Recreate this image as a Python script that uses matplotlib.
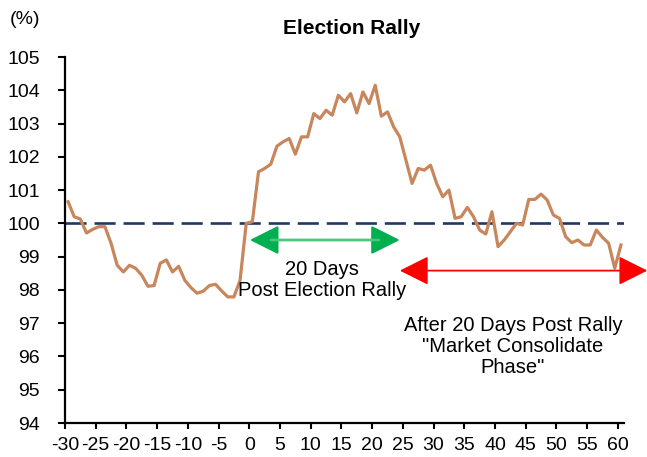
import numpy as np
import matplotlib
matplotlib.use('Agg')
import matplotlib.pyplot as plt

plt.rcParams['font.family'] = ['Liberation Sans', 'DejaVu Sans']

# days relative to election day
days = np.arange(-30, 61)
# index level (%)
level = [
    100.65, 100.2, 100.13, 99.71, 99.82, 99.9, 99.9, 99.4, 98.74, 98.54,
    98.74, 98.65, 98.44, 98.11, 98.13, 98.8, 98.9, 98.54, 98.71, 98.29,
    98.07, 97.9, 97.96, 98.13, 98.17, 97.97, 97.79, 97.79, 98.29, 100.0,
    100.05, 101.55, 101.65, 101.78, 102.32, 102.45, 102.55, 102.08, 102.6, 102.6,
    103.3, 103.15, 103.4, 103.25, 103.85, 103.65, 103.9, 103.32, 103.95, 103.6,
    104.15, 103.22, 103.35, 102.9, 102.6, 101.9, 101.2, 101.65, 101.6, 101.75,
    101.2, 100.8, 101.0, 100.15, 100.2, 100.48, 100.2, 99.8, 99.68, 100.35,
    99.3, 99.5, 99.75, 100.0, 99.95, 100.72, 100.72, 100.88, 100.7, 100.25,
    100.15, 99.6, 99.42, 99.5, 99.35, 99.35, 99.8, 99.58, 99.4, 98.65,
    99.35,
]
baseline = 100
xtick_labels = np.arange(-30, 61, 5)
yticks = np.arange(94, 106, 1)

fig = plt.figure(figsize=(6.47, 4.57), dpi=100)
ax = fig.add_axes([65 / 647, 34 / 457, 559 / 647, 366 / 457])

ax.plot(days, level, color='#C8865C', linewidth=2.3, zorder=3)
ax.axhline(baseline, color='#1F3864', linewidth=1.9, dashes=(8, 3), zorder=2)

ax.set_xlim(-30.5, 60.5)
ax.set_ylim(94, 105)
# excel style: ticks sit between categories
ax.set_xticks(xtick_labels - 0.5)
ax.set_xticklabels([str(v) for v in xtick_labels])
ax.set_yticks(yticks)

for s in ['top', 'right']:
    ax.spines[s].set_visible(False)
for s in ['left', 'bottom']:
    ax.spines[s].set_linewidth(1.6)
ax.tick_params(axis='x', direction='out', length=4, width=1.5, pad=6, labelsize=14)
ax.tick_params(axis='y', direction='out', length=5, width=1.5, pad=13, labelsize=14)

head = '<|-|>,head_length=1.0,head_width=0.5'

# green arrow for the 20 day rally
ax.annotate('', xy=(-0.4, 99.5), xytext=(24.0, 99.5),
            arrowprops=dict(arrowstyle=head, mutation_scale=18,
                            color='#00B050', lw=1.6, shrinkA=0, shrinkB=0),
            annotation_clip=False)
ax.annotate('', xy=(3.0, 99.5), xytext=(20.6, 99.5),
            arrowprops=dict(arrowstyle='-', color='#4CC77E', lw=1.8,
                            shrinkA=0, shrinkB=0))
ax.text(11.4, 98.3, '20 Days\nPost Election Rally', ha='center', va='center',
        fontsize=14.5, linespacing=1.15)

# red arrow for consolidation phase
ax.annotate('', xy=(24.0, 98.58), xytext=(64.3, 98.58),
            arrowprops=dict(arrowstyle=head, mutation_scale=18,
                            color='#FF0000', lw=1.3, shrinkA=0, shrinkB=0),
            annotation_clip=False)
ax.text(42.4, 96.3, 'After 20 Days Post Rally\n"Market Consolidate\nPhase"',
        ha='center', va='center', fontsize=14.5, linespacing=1.15)

fig.text(352 / 647, 1 - 28 / 457, 'Election Rally', ha='center', va='center',
         fontsize=15, fontweight='bold')
fig.text(25 / 647, 1 - 20 / 457, '(%)', ha='center', va='center', fontsize=14)

fig.savefig('out.png', dpi=100)
